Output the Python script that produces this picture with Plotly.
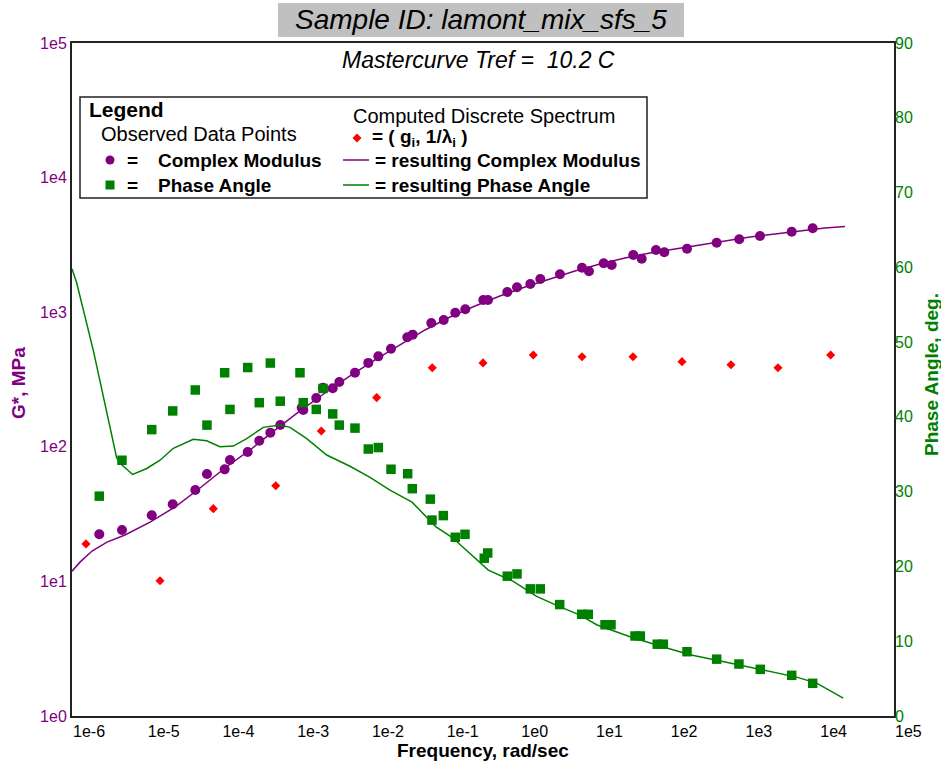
import plotly.graph_objects as go

# ---------------- data ----------------
# observed complex modulus |G*| (MPa) vs frequency exponent log10(rad/sec)
gstar_logf = [-5.635, -5.331, -4.933, -4.652, -4.350, -4.194, -3.957, -3.886, -3.649, -3.494,
              -3.346, -3.213, -2.926, -2.905, -2.731, -2.641, -2.511, -2.423, -2.213, -2.035,
              -1.901, -1.731, -1.513, -1.441, -1.192, -1.026, -0.871, -0.737, -0.496, -0.433,
              -0.175, -0.045, 0.133, 0.267, 0.530, 0.825, 0.918, 1.115, 1.222, 1.511,
              1.624, 1.815, 1.926, 2.230, 2.627, 2.929, 3.207, 3.631, 3.912]
gstar_val = [22.4, 24.1, 31.0, 37.4, 47.8, 62.8, 68.0, 79.8, 91.5, 111,
             127, 145, 195, 188, 230, 275, 272, 303, 355, 420,
             470, 535, 651, 681, 831, 875, 991, 1051, 1233, 1233,
             1413, 1531, 1621, 1765, 1913, 2142, 2014, 2308, 2243, 2660,
             2498, 2897, 2786, 2964, 3282, 3481, 3683, 3965, 4200]

# observed phase angle (deg)
phase_logf = [-5.635, -5.331, -4.933, -4.652, -4.350, -4.194, -3.957, -3.886, -3.649, -3.494,
              -3.346, -3.213, -2.949, -2.905, -2.731, -2.641, -2.511, -2.423, -2.213, -2.035,
              -1.901, -1.731, -1.508, -1.446, -1.205, -1.183, -1.031, -0.871, -0.741, -0.483,
              -0.437, -0.175, -0.045, 0.133, 0.267, 0.526, 0.821, 0.909, 1.133, 1.213,
              1.534, 1.605, 1.832, 1.913, 2.230, 2.627, 2.925, 3.211, 3.631, 3.912]
phase_val = [29.4, 34.2, 38.3, 40.8, 43.6, 38.9, 45.9, 41.0, 46.6, 41.9,
             47.2, 42.1, 45.9, 41.9, 41.0, 43.8, 40.4, 38.9, 38.5, 35.7,
             35.9, 33.0, 32.4, 30.4, 29.0, 26.2, 26.8, 23.9, 24.3, 21.1,
             21.8, 18.7, 19.0, 17.0, 17.0, 14.9, 13.6, 13.6, 12.2, 12.2,
             10.7, 10.7, 9.6, 9.6, 8.6, 7.6, 6.95, 6.24, 5.44, 4.37]

# resulting (fitted) complex modulus curve
fitg_logf = [-6.0, -5.893, -5.732, -5.532, -5.291, -4.956, -4.622, -4.287, -3.953, -3.618,
             -3.284, -2.949, -2.614, -2.280, -1.945, -1.611, -1.276, -0.942, -0.607, -0.273,
             0.062, 0.396, 0.731, 1.065, 1.400, 1.735, 2.069, 2.403, 2.738, 3.073,
             3.407, 3.742, 4.076, 4.344]
fitg_val = [11.9, 13.9, 16.8, 19.6, 22.1, 27.6, 35.7, 49.4, 69.6, 94.7,
            133, 185, 251, 336, 442, 571, 738, 921, 1112, 1319,
            1538, 1765, 2024, 2281, 2528, 2754, 2950, 3158, 3381, 3620,
            3811, 4012, 4224, 4333]

# resulting (fitted) phase angle curve
fitp_logf = [-6.0, -5.937, -5.715, -5.581, -5.492, -5.402, -5.335, -5.188, -5.000, -4.822,
             -4.644, -4.377, -4.198, -4.020, -3.842, -3.662, -3.440, -3.217, -3.083, -2.859,
             -2.592, -2.280, -2.012, -1.745, -1.450, -1.129, -0.915, -0.540, -0.429, -0.095,
             0.218, 0.486, 0.798, 1.021, 1.467, 1.824, 2.270, 2.805, 3.251, 3.697,
             3.965, 4.321]
fitp_val = [59.8, 57.9, 48.9, 42.7, 38.7, 34.5, 33.6, 32.3, 33.1, 34.2,
            35.8, 37.0, 36.8, 36.0, 36.1, 37.1, 38.6, 38.9, 38.6, 37.1,
            34.9, 33.4, 31.9, 30.2, 28.6, 25.3, 23.9, 20.6, 19.5, 18.0,
            16.0, 14.8, 13.5, 12.2, 10.6, 9.5, 8.2, 7.1, 6.15, 5.2,
            4.4, 2.4]

# computed discrete spectrum (g_i, 1/lambda_i)
spec_logf = [-5.813, -4.822, -4.109, -3.274, -2.664, -1.923, -1.179, -0.500, 0.173, 0.825,
             1.507, 2.163, 2.818, 3.447, 4.152]
spec_val = [19.0, 10.1, 34.7, 51.4, 131, 232, 387, 420, 481, 467,
            467, 429, 407, 387, 481]

x_exps = list(range(-6, 6))
x_ticktext = [f"1e{k}" for k in x_exps]
y_exps = list(range(0, 6))
y_ticktext = [f"1e{k}" for k in y_exps]
phase_ticks = list(range(0, 91, 10))

PURPLE = "#800080"
GREEN = "#008000"
RED = "#ff0000"
FONT = "Liberation Sans, Arial, sans-serif"


def f(exps):
    return [10 ** e for e in exps]


fig = go.Figure()
fig.add_trace(go.Scatter(x=f(fitg_logf), y=fitg_val, mode="lines",
                         line=dict(color=PURPLE, width=1.5), yaxis="y"))
fig.add_trace(go.Scatter(x=f(gstar_logf), y=gstar_val, mode="markers",
                         marker=dict(color=PURPLE, size=10, symbol="circle"), yaxis="y"))
fig.add_trace(go.Scatter(x=f(spec_logf), y=spec_val, mode="markers",
                         marker=dict(color=RED, size=7, symbol="diamond"), yaxis="y"))
fig.add_trace(go.Scatter(x=f(fitp_logf), y=fitp_val, mode="lines",
                         line=dict(color=GREEN, width=1.5), yaxis="y2"))
fig.add_trace(go.Scatter(x=f(phase_logf), y=phase_val, mode="markers",
                         marker=dict(color=GREEN, size=9.5, symbol="square"), yaxis="y2"))

# plot-area pixel geometry (figure 941x766)
PL, PR, PT, PB = 72, 894, 43, 716


def px(x):
    return (x - PL) / (PR - PL)


def py(y):
    return (PB - y) / (PB - PT)


shapes = []
# title grey box
shapes.append(dict(type="rect", xref="paper", yref="paper", x0=px(278), x1=px(684),
                   y0=py(37), y1=py(3), fillcolor="#c0c0c0", line=dict(width=0)))
# legend box
shapes.append(dict(type="rect", xref="paper", yref="paper", x0=px(80), x1=px(647),
                   y0=py(198), y1=py(97), fillcolor="white", line=dict(color="#222", width=1.5)))
# legend glyphs
shapes.append(dict(type="circle", xref="paper", yref="paper", x0=px(105.5), x1=px(114.5),
                   y0=py(164.5), y1=py(155.5), fillcolor=PURPLE, line=dict(width=0)))
shapes.append(dict(type="rect", xref="paper", yref="paper", x0=px(105.5), x1=px(114.5),
                   y0=py(189.5), y1=py(180.5), fillcolor=GREEN, line=dict(width=0)))
cx, cy = 357, 138
shapes.append(dict(type="path", xref="paper", yref="paper",
                   path=f"M {px(cx-4.5)},{py(cy)} L {px(cx)},{py(cy-4.5)} L {px(cx+4.5)},{py(cy)} "
                        f"L {px(cx)},{py(cy+4.5)} Z",
                   fillcolor=RED, line=dict(width=0)))
shapes.append(dict(type="line", xref="paper", yref="paper", x0=px(343), x1=px(369),
                   y0=py(160), y1=py(160), line=dict(color=PURPLE, width=1.5)))
shapes.append(dict(type="line", xref="paper", yref="paper", x0=px(343), x1=px(369),
                   y0=py(185), y1=py(185), line=dict(color=GREEN, width=1.5)))


def ann(text, x, y, size, color="black", xanchor="left", angle=0):
    return dict(text=text, xref="paper", yref="paper", x=px(x), y=py(y), xanchor=xanchor,
                yanchor="middle", showarrow=False, textangle=angle,
                font=dict(family=FONT, size=size, color=color))


annotations = [
    ann("<i>Sample ID: lamont_mix_sfs_5</i>", 481, 20, 28, xanchor="center"),
    ann("<i>Mastercurve Tref =\u00a0 10.2 C</i>", 478, 60, 23, xanchor="center"),
    ann("<b>Legend</b>", 87, 110, 21),
    ann("Observed Data Points", 99, 134, 20),
    ann("Computed Discrete Spectrum", 351, 116, 20),
    ann("<b>=</b>", 132, 160, 19, xanchor="center"),
    ann("<b>=</b>", 132, 185, 19, xanchor="center"),
    ann("<b>Complex Modulus</b>", 156, 160, 19),
    ann("<b>Phase Angle</b>", 156, 185, 19),
    ann("<b>= ( g<sub>i</sub>, 1/λ<sub>i</sub> )</b>", 370, 138, 19),
    ann("<b>= resulting Complex Modulus</b>", 373, 160, 19),
    ann("<b>= resulting Phase Angle</b>", 373, 185, 19),
    ann("<b>G*, MPa</b>", 18, 383, 19, color=PURPLE, xanchor="center", angle=-90),
    ann("<b>Phase Angle, deg.</b>", 931, 375, 19, color=GREEN, xanchor="center", angle=-90),
    ann("<b>Frequency, rad/sec</b>", 483, 750, 19, xanchor="center"),
]

fig.update_layout(
    width=941, height=766,
    margin=dict(l=PL, r=941 - PR, t=PT, b=766 - PB),
    paper_bgcolor="white", plot_bgcolor="white",
    showlegend=False,
    font=dict(family=FONT, size=16, color="black"),
    xaxis=dict(type="log", range=[-6, 5], tickvals=f(x_exps), ticktext=x_ticktext,
               ticks="", showgrid=False, zeroline=False, showline=True, linecolor="#222",
               linewidth=2, mirror=True, ticklabelposition="outside right",
               tickfont=dict(family=FONT, size=16, color="black")),
    yaxis=dict(type="log", range=[0, 5], tickvals=f(y_exps), ticktext=y_ticktext,
               ticks="", showgrid=False, zeroline=False, showline=True, linecolor="#222",
               linewidth=2, mirror=True,
               tickfont=dict(family=FONT, size=16, color=PURPLE)),
    yaxis2=dict(overlaying="y", side="right", range=[0, 90], tickvals=phase_ticks,
                ticks="", showgrid=False, zeroline=False, showline=False,
                tickfont=dict(family=FONT, size=16, color=GREEN)),
    shapes=shapes,
    annotations=annotations,
)

fig.write_html("out.html")
